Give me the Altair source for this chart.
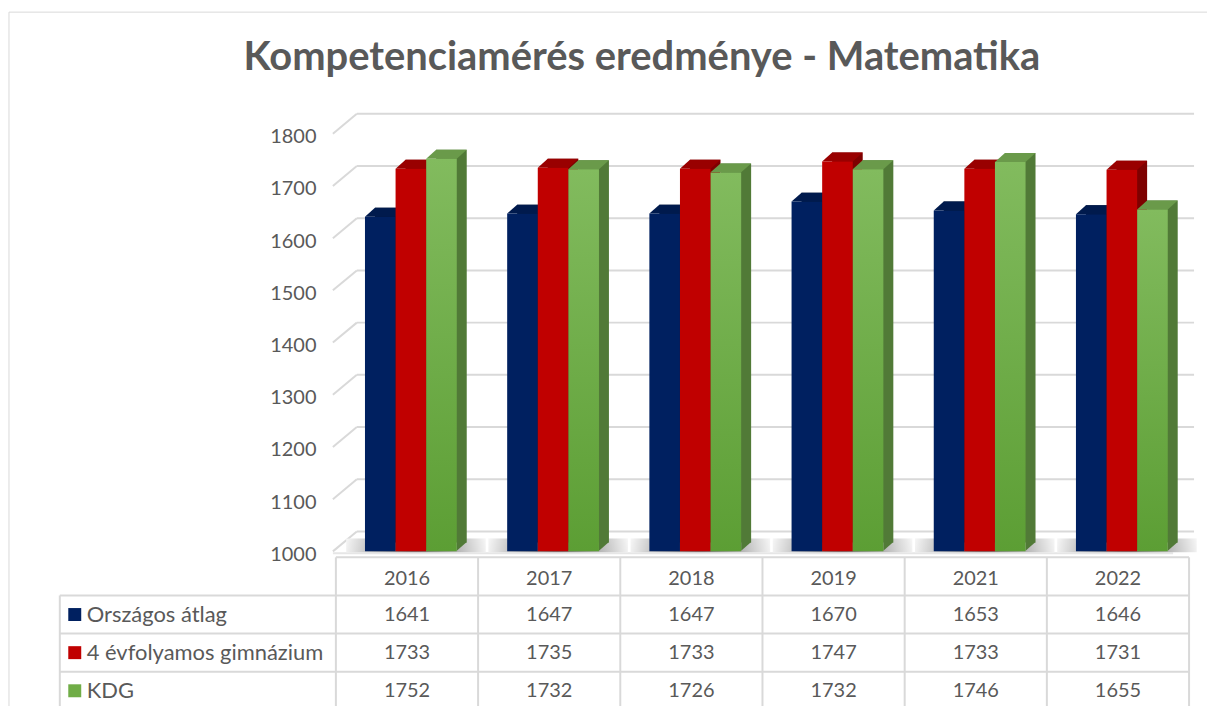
import altair as alt
import pandas as pd

# ---------------- data ----------------
years = ["2016", "2017", "2018", "2019", "2021", "2022"]
series = ["Országos átlag", "4 évfolyamos gimnázium", "KDG"]
orszagos = [1641, 1647, 1647, 1670, 1653, 1646]
gimnazium = [1733, 1735, 1733, 1747, 1733, 1731]
kdg = [1752, 1732, 1726, 1732, 1746, 1655]
y_ticks = [1000, 1100, 1200, 1300, 1400, 1500, 1600, 1700, 1800]
title_text = "Kompetenciamérés eredménye - Matematika"

values_by_series = [orszagos, gimnazium, kdg]
front_colors = ["#002060", "#C00000", "#70AD47"]
top_colors = ["#001A4D", "#990000", "#6A9A4A"]
side_colors = ["#00122F", "#7E0000", "#517A37"]
bar_shift = [-26.8, 3.9, 34.6]   # pixel offset of each series inside its year band
BW = 30.7                        # bar width in px
DX, DY = 10, 9                   # depth of the pseudo-3D bars
green_gradient = {
    "gradient": "linear",
    "x1": 0, "x2": 0, "y1": 0, "y2": 1,
    "stops": [{"offset": 0, "color": "#82BB5E"}, {"offset": 1, "color": "#5C9E34"}],
}
shadow_gradient = {
    "gradient": "radial",
    "x1": 0.5, "y1": 0.6, "r1": 0, "x2": 0.5, "y2": 0.6, "r2": 0.55,
    "stops": [{"offset": 0, "color": "#6E6E6E"}, {"offset": 0.55, "color": "#B5B5B5"},
              {"offset": 1, "color": "#FFFFFF"}],
}

rows = []
for s, vals in zip(series, values_by_series):
    for yr, v in zip(years, vals):
        rows.append({"year": yr, "series": s, "value": v})
df = pd.DataFrame(rows)
ticks_df = pd.DataFrame({"value": y_ticks})
years_df = pd.DataFrame({"year": years})
one = pd.DataFrame({"t": [title_text]})

FONT = "Lato"
GRID = "#D9D9D9"
TXT = "#595959"
FS = 20

# ---------------- top: 3D-like bar chart ----------------
x_enc = alt.X("year:N", scale=alt.Scale(domain=years, paddingInner=0, paddingOuter=0), axis=None)
y_enc = alt.Y(
    "value:Q",
    scale=alt.Scale(domain=[1000, 1800], nice=False, zero=False),
    axis=alt.Axis(values=y_ticks, format="d", title=None, domain=False, ticks=False, grid=False,
                  labelFont=FONT, labelFontSize=FS, labelColor=TXT, labelPadding=20,
                  labelOffset=3),
)

back_grid = alt.Chart(ticks_df).mark_rule(color=GRID, strokeWidth=2, yOffset=-20).encode(
    y=y_enc, x=alt.value(21), x2=alt.value(861)
)
diag_grid = alt.Chart(ticks_df).mark_rule(color=GRID, strokeWidth=2, y2Offset=-20).encode(
    y=y_enc, y2=alt.Y2("value:Q"), x=alt.value(-3), x2=alt.value(21)
)
floor_front = alt.Chart(ticks_df[ticks_df.value == 1000]).mark_rule(
    color="#E6E6E6", strokeWidth=2, yOffset=2).encode(
    y=y_enc, x=alt.value(-3), x2=alt.value(840)
)
shadow = alt.Chart(years_df).mark_bar(
    color=shadow_gradient, width=140, xOffset=9, yOffset=-13, y2Offset=1
).encode(x=x_enc, y=alt.datum(1000), y2=alt.datum(1000))

# parallelogram top face, in a square box of side TOPW centred on the face
TOPW = BW + DX
h = DY / TOPW
a = (BW - TOPW / 2) / (TOPW / 2)
b = (DX - TOPW / 2) / (TOPW / 2)
top_path = f"M-1,{h:.3f} L{a:.3f},{h:.3f} L1,{-h:.3f} L{b:.3f},{-h:.3f} Z"
tri_path = "M-1,-0.9 L1,-0.9 L-1,0.9 Z"

layers = [back_grid, diag_grid, floor_front, shadow]
for s, c, dx in zip(series, side_colors, bar_shift):
    layers.append(
        alt.Chart(df[df.series == s]).mark_bar(
            color=c, width=BW, xOffset=dx + DX, yOffset=-DY, y2Offset=-DY
        ).encode(x=x_enc, y=y_enc, y2=alt.datum(1000))
    )
    # lower corner of the side face
    layers.append(
        alt.Chart(df[df.series == s]).mark_point(
            shape=tri_path, filled=True, opacity=1, color=c, size=DX * DX,
            xOffset=dx + BW / 2 + DX / 2, yOffset=-DY / 2 - 0.5, strokeWidth=0
        ).encode(x=x_enc, y=alt.datum(1000))
    )
for s, c, dx in zip(series, top_colors, bar_shift):
    layers.append(
        alt.Chart(df[df.series == s]).mark_point(
            shape=top_path, filled=True, opacity=1, color=c, size=TOPW * TOPW,
            xOffset=dx - BW / 2 + TOPW / 2, yOffset=-DY / 2, strokeWidth=0
        ).encode(x=x_enc, y=y_enc)
    )
for s, c, dx in zip(series, front_colors, bar_shift):
    col = green_gradient if s == "KDG" else c
    layers.append(
        alt.Chart(df[df.series == s]).mark_bar(color=col, width=BW, xOffset=dx).encode(
            x=x_enc, y=y_enc, y2=alt.datum(1000)
        )
    )

border = [
    alt.Chart(one).mark_rule(color=GRID, strokeWidth=1).encode(
        x=alt.value(-328), y=alt.value(-122), y2=alt.value(580)),
    alt.Chart(one).mark_rule(color=GRID, strokeWidth=1).encode(
        x=alt.value(-328), x2=alt.value(874), y=alt.value(-122)),
]
title = alt.Chart(one).mark_text(
    font=FONT, fontSize=40, fontWeight="bold", color=TXT
).encode(text="t:N", x=alt.value(307), y=alt.value(-76))

top = alt.layer(*layers, *border, title).properties(width=856, height=419)

# ---------------- bottom: data table ----------------
row_domain = ["hdr"] + series
xt = alt.X("year:N", scale=alt.Scale(domain=years, paddingInner=0, paddingOuter=0), axis=None)
yt = alt.Y("row:N", scale=alt.Scale(domain=row_domain, paddingInner=0, paddingOuter=0), axis=None)

hdr_df = pd.DataFrame({"year": years, "row": ["hdr"] * len(years)})
cell_df = df.rename(columns={"series": "row"})
lab_df = pd.DataFrame({"row": series})

vlines = alt.Chart(hdr_df).mark_rule(color=GRID, strokeWidth=2).encode(
    x=alt.X("year:N", scale=alt.Scale(domain=years, paddingInner=0, paddingOuter=0),
            axis=None, bandPosition=0),
    y=alt.value(0), y2=alt.value(160))
right_line = alt.Chart(one).mark_rule(color=GRID, strokeWidth=2).encode(
    x=alt.value(856), y=alt.value(0), y2=alt.value(160))
left_line = alt.Chart(one).mark_rule(color=GRID, strokeWidth=2).encode(
    x=alt.value(-277), y=alt.value(38.25), y2=alt.value(160))
hlines = alt.Chart(lab_df).mark_rule(color=GRID, strokeWidth=2).encode(
    y=alt.Y("row:N", scale=alt.Scale(domain=row_domain, paddingInner=0, paddingOuter=0),
            axis=None, bandPosition=0),
    x=alt.value(-277), x2=alt.value(856))
top_line = alt.Chart(one).mark_rule(color=GRID, strokeWidth=2).encode(
    y=alt.value(0), x=alt.value(0), x2=alt.value(856))

hdr_text = alt.Chart(hdr_df).mark_text(font=FONT, fontSize=FS, color=TXT, dy=3).encode(
    x=xt, y=yt, text="year:N")
cell_text = alt.Chart(cell_df).mark_text(font=FONT, fontSize=FS, color=TXT).encode(
    x=xt, y=yt, text="value:Q")
lab_text = alt.Chart(lab_df).mark_text(font=FONT, fontSize=22, color=TXT, align="left").encode(
    x=alt.value(-250), y=yt, text="row:N")
squares = alt.Chart(lab_df).mark_square(size=169, opacity=1).encode(
    x=alt.value(-262), y=yt,
    color=alt.Color("row:N", scale=alt.Scale(domain=series, range=front_colors), legend=None))

bottom = alt.layer(vlines, right_line, left_line, hlines, top_line,
                   hdr_text, cell_text, lab_text, squares).properties(width=856, height=153)

chart = alt.vconcat(top, bottom, spacing=6, bounds="flush").properties(
    padding={"left": 8, "top": 10, "right": 0, "bottom": 0},
    background="white",
).configure_view(strokeWidth=0)

chart.save("out.html", embed_options={"renderer": "svg", "actions": False})
